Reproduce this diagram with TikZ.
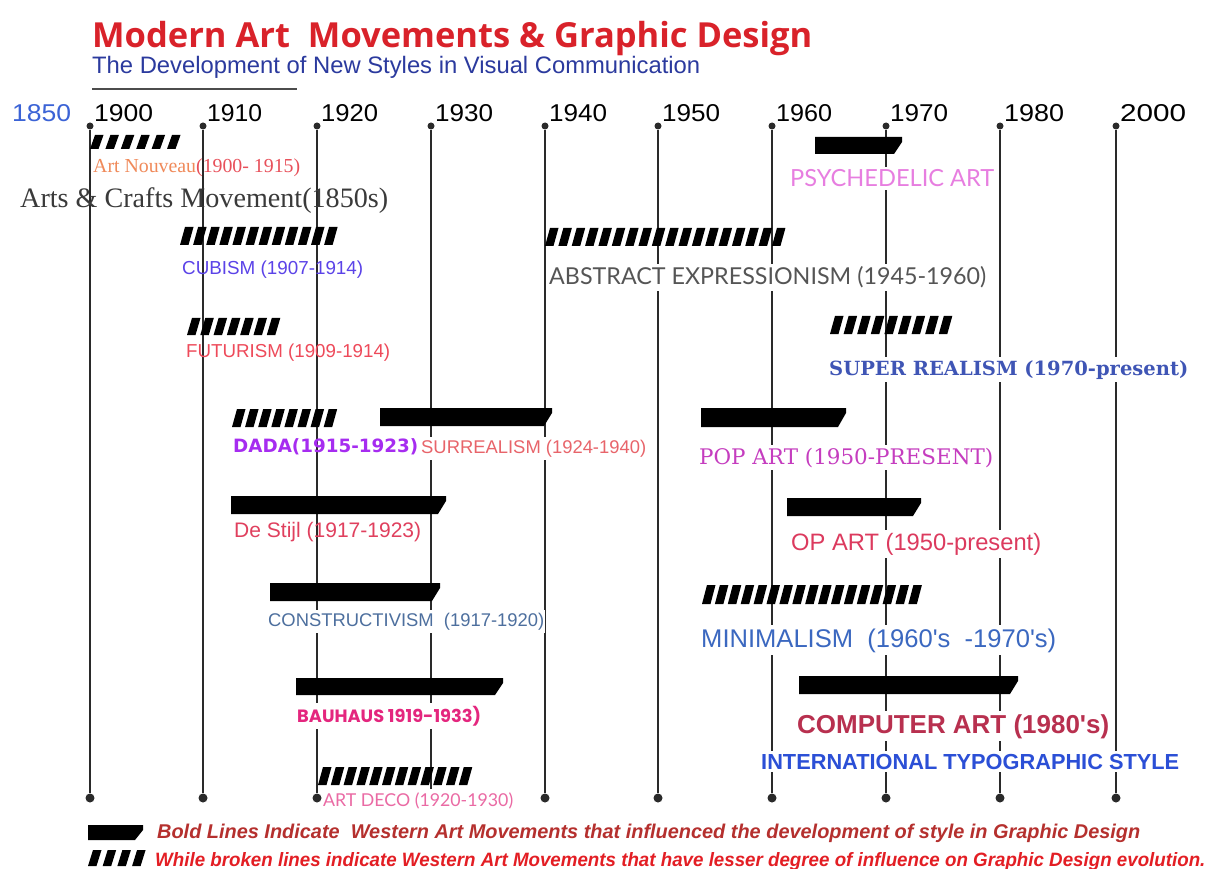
\documentclass[tikz,border=0pt]{standalone}
\usepackage{fontspec}
\setmainfont{Liberation Sans}
\newfontfamily\serf{Liberation Serif}
\newfontfamily\titlef{Open Sans}
\newfontfamily\latof{Lato}
\newfontfamily\slabf{DejaVu Serif}
\newfontfamily\dejas{DejaVu Sans}
\newfontfamily\popf{Poppins}
\definecolor{titlered}{HTML}{D9222A}
\definecolor{subblue}{HTML}{2B3A9E}
\definecolor{c1850}{HTML}{3B63D6}
\definecolor{nouv}{HTML}{F08A5A}
\definecolor{nouvr}{HTML}{E8505A}
\definecolor{crafts}{HTML}{3A3A3A}
\definecolor{psych}{HTML}{E77EE0}
\definecolor{cub}{HTML}{5B43E8}
\definecolor{abst}{HTML}{555555}
\definecolor{fut}{HTML}{EE4A5A}
\definecolor{superr}{HTML}{3F55B5}
\definecolor{dada}{HTML}{A62CF0}
\definecolor{surr}{HTML}{E8646A}
\definecolor{pop}{HTML}{C53DBF}
\definecolor{stijl}{HTML}{E0405E}
\definecolor{opart}{HTML}{DC3A5E}
\definecolor{constr}{HTML}{4D6F9E}
\definecolor{mini}{HTML}{3B68C0}
\definecolor{bauh}{HTML}{E4267E}
\definecolor{comp}{HTML}{B8304F}
\definecolor{intl}{HTML}{2B4FD6}
\definecolor{deco}{HTML}{EA6AA4}
\definecolor{leg1}{HTML}{B5302E}
\definecolor{leg2}{HTML}{E31E24}
\definecolor{vl}{HTML}{2A2A2A}
\newcommand\fitw[2]{\resizebox{#1pt}{!}{#2}}
\newcommand\fitwh[3]{\resizebox{#1pt}{#2pt}{#3}}
% hatched bar: x1, ytop, n stripes, period, height
\newcommand\hatchbar[5]{%
  \foreach \k in {1,...,#3}{%
    \fill[black] ({#1+(\k-1)*#4},{#2+#5}) -- ++(8.5,0) -- ++(5,-#5) -- ++(-8.5,0) -- cycle;}}
% solid bar: x1, x2, ytop, ybot
\newcommand\solidbar[4]{%
  \fill[black] (#1,#3) -- (#2,#3) -- (#2,{#3+5}) -- ({#2-8},#4) -- (#1,#4) -- cycle;}
\tikzset{
  lab/.style={anchor=base west, inner sep=0pt},
  gap/.style={fill=white, inner xsep=1pt, inner ysep=3pt},
  tdot/.style={circle, fill=vl, inner sep=0pt, minimum size=7pt},
  bdot/.style={circle, fill=vl, inner sep=0pt, minimum size=9pt},
  vline/.style={draw=vl, line width=1.4pt},
}
\begin{document}
\begin{tikzpicture}[x=1pt,y=-1pt]
\useasboundingbox[fill=white] (0,0) rectangle (1211,869);

% title
\node[lab] (title) at (92,48) {\color{titlered}\fitw{720}{\titlef\bfseries Modern Art~ Movements \& Graphic Design}};
\node[lab] (subtitle) at (92,74) {\color{subblue}\fitw{608}{The Development of New Styles in Visual Communication}};
\draw[line width=2.5pt, draw=black!70] (92,89) -- (297,89);

% timeline
\node[lab] (y1850) at (12,122) {\color{c1850}\fitwh{59}{17}{1850}};
\foreach \yr/\xx/\ww in {1900/90/59,1910/203/55,1920/317/57,1930/431/58,1940/545/58,1950/658/58,1960/772/56,1970/886/58,1980/1000/60,2000/1116/66}{
  \node[tdot] (t\yr) at (\xx,126) {};
  \node[bdot] (b\yr) at (\xx,798) {};
  \draw[vline] (t\yr) -- (b\yr);
  \node[lab] (y\yr) at (\xx+4,122) {\fitwh{\ww}{17}{\yr}};
}

% labels
\node[lab] (nouveau) at (93,173) {\fitw{207}{\serf\color{nouv}Art Nouveau\color{nouvr}(1900- 1915)}};
\node[lab] (crafts) at (20,208) {\color{crafts}\fitw{368}{\serf Arts \& Crafts Movement(1850s)}};
\node[lab,gap] (psych) at (789,187) {\color{psych}\fitw{204}{\latof PSYCHEDELIC ART}};
\node[lab] (cubism) at (182,275) {\color{cub}\fitw{181}{CUBISM (1907-1914)}};
\node[lab,gap] (abstract) at (548,285) {\color{abst}\fitw{437}{\latof ABSTRACT EXPRESSIONISM (1945-1960)}};
\node[lab] (futurism) at (186,358) {\color{fut}\fitw{204}{FUTURISM (1909-1914)}};
\node[lab,gap] (superr) at (828,375) {\color{superr}\fitw{359}{\slabf\bfseries SUPER REALISM (1970-present)}};
\node[lab] (dada) at (233,452) {\color{dada}\fitw{185}{\dejas\bfseries DADA(1915-1923)}};
\node[lab,gap] (surreal) at (420,453) {\color{surr}\fitw{225}{SURREALISM (1924-1940)}};
\node[lab,gap] (popart) at (698,464) {\color{pop}\fitw{294}{\slabf POP ART (1950-PRESENT)}};
\node[lab] (stijl) at (234,537) {\color{stijl}\fitw{187}{De Stijl (1917-1923)}};
\node[lab,gap] (opart) at (790,550) {\color{opart}\fitw{250}{OP ART (1950-present)}};
\node[lab,gap] (constr) at (267,626) {\color{constr}\fitw{276}{CONSTRUCTIVISM~ (1917-1920)}};
\node[lab,gap] (mini) at (700,647) {\color{mini}\fitw{355}{MINIMALISM~ (1960\textquotesingle s~ -1970\textquotesingle s)}};
\node[lab,gap] (bauhaus) at (296,722) {\color{bauh}\fitw{184}{\popf\bfseries BAUHAUS 1919-1933)}};
\node[lab,gap] (computer) at (796,733) {\color{comp}\fitw{312}{\bfseries COMPUTER ART (1980\textquotesingle s)}};
\node[lab,gap] (intl) at (760,769) {\color{intl}\fitw{418}{\bfseries INTERNATIONAL TYPOGRAPHIC STYLE}};
\node[lab,gap] (deco) at (322,806) {\color{deco}\fitw{190}{\latof ART DECO (1920-1930)}};

% hatched bars (broken lines)
\hatchbar{90}{135}{6}{15.4}{14}
\hatchbar{180}{227}{12}{13.1}{18}
\hatchbar{545}{228}{18}{13.35}{18}
\hatchbar{187}{318}{7}{13.3}{17}
\hatchbar{830}{316}{9}{13.6}{18}
\hatchbar{232}{409}{8}{13.1}{18}
\hatchbar{702}{585}{17}{12.9}{19}
\hatchbar{318}{767}{12}{12.8}{18}

% solid bars (bold lines)
\solidbar{815}{902}{137}{154}
\solidbar{380}{552}{408}{426}
\solidbar{701}{846}{408}{427}
\solidbar{231}{446}{496}{514}
\solidbar{787}{921}{498}{516}
\solidbar{270}{440}{583}{601}
\solidbar{296}{503}{678}{695}
\solidbar{799}{1018}{676}{694}

% legend
\solidbar{88}{143}{825}{840}
\node[lab] (leg1) at (157,838) {\color{leg1}\fitw{983}{\bfseries\itshape Bold Lines Indicate~ Western Art Movements that influenced the development of style in Graphic Design}};
\hatchbar{88}{850}{4}{14.7}{16}
\node[lab] (leg2) at (155,866) {\color{leg2}\fitwh{1050}{14}{\bfseries\itshape While broken lines indicate Western Art Movements that have lesser degree of influence on Graphic Design evolution.}};
\end{tikzpicture}
\end{document}
